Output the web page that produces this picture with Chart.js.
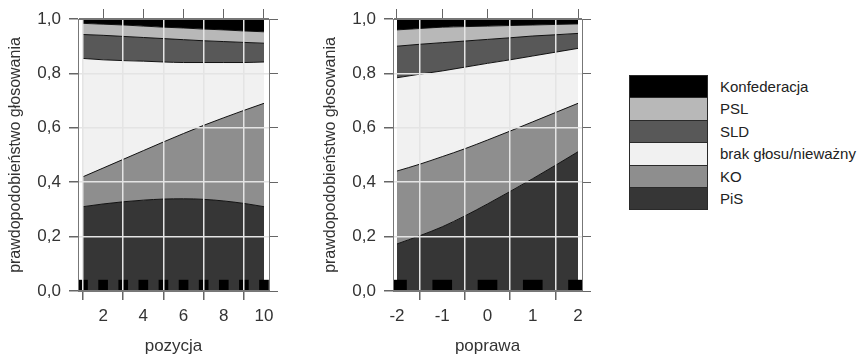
<!DOCTYPE html>
<html>
<head>
<meta charset="utf-8">
<script src="https://cdn.jsdelivr.net/npm/chart.js@4.4.1/dist/chart.umd.min.js"></script>
<style>
  body { margin: 0; background: #fff; width: 862px; height: 359px; overflow: hidden;
         font-family: "Liberation Sans", Arial, sans-serif; }
  .panel { position: absolute; top: 0; }
  #legend { position: absolute; left: 629px; top: 75px; }
  .row { position: relative; height: 22.4px; }
  .box { position: absolute; left: 0; top: 0; width: 79px; height: 23.4px; box-sizing: border-box;
         border: 1px solid #2a2a2a; }
  .lbl { position: absolute; left: 91px; top: 0; line-height: 23px; font-size: 15px; color: #222;
         white-space: nowrap; }
</style>
</head>
<body>
<div class="panel" style="left:0"><canvas id="pozycjaChart" width="290" height="359"></canvas></div>
<div class="panel" style="left:315px"><canvas id="poprawaChart" width="290" height="359"></canvas></div>
<div id="legend"></div>

<script>
Chart.defaults.font.family = '"Liberation Sans", Arial, sans-serif';
Chart.defaults.color = '#333';

// stack order, bottom to top
const partyNames = ['PiS', 'KO', 'brak głosu/nieważny', 'SLD', 'PSL', 'Konfederacja'];
const partyColors = ['#363636', '#8e8e8e', '#f1f1f1', '#585858', '#b8b8b8', '#000000'];
const yTicks = [0, 0.2, 0.4, 0.6, 0.8, 1.0];

// left panel: pozycja
const pozycja = [1, 2, 3, 4, 5, 6, 7, 8, 9, 10];
const pozycjaTicks = [2, 4, 6, 8, 10];
const pozycjaPiS  = [0.310, 0.320, 0.328, 0.334, 0.338, 0.339, 0.337, 0.331, 0.322, 0.310];
const pozycjaKO   = [0.110, 0.132, 0.156, 0.182, 0.210, 0.240, 0.272, 0.306, 0.342, 0.380];
const pozycjaBrak = [0.435, 0.398, 0.363, 0.329, 0.294, 0.261, 0.231, 0.203, 0.176, 0.152];
const pozycjaSLD  = [0.088, 0.090, 0.089, 0.087, 0.086, 0.084, 0.080, 0.077, 0.074, 0.069];
const pozycjaPSL  = [0.041, 0.041, 0.042, 0.042, 0.042, 0.043, 0.043, 0.043, 0.042, 0.042];
const pozycjaKonf = [0.016, 0.019, 0.022, 0.026, 0.030, 0.033, 0.037, 0.040, 0.044, 0.047];
const pozycjaRug  = [1, 2, 3, 4, 5, 6, 7, 8, 9, 10];

// right panel: poprawa
const poprawa = [-2, -1.5, -1, -0.5, 0, 0.5, 1, 1.5, 2];
const poprawaTicks = [-2, -1, 0, 1, 2];
const poprawaPiS  = [0.173, 0.203, 0.236, 0.276, 0.320, 0.366, 0.413, 0.462, 0.512];
const poprawaKO   = [0.268, 0.263, 0.258, 0.247, 0.235, 0.222, 0.209, 0.194, 0.178];
const poprawaBrak = [0.343, 0.331, 0.315, 0.300, 0.282, 0.262, 0.242, 0.222, 0.202];
const poprawaSLD  = [0.116, 0.110, 0.104, 0.096, 0.088, 0.081, 0.0735, 0.064, 0.055];
const poprawaPSL  = [0.060, 0.058, 0.057, 0.053, 0.049, 0.045, 0.0405, 0.038, 0.035];
const poprawaKonf = [0.040, 0.035, 0.030, 0.028, 0.026, 0.024, 0.022, 0.020, 0.018];
const poprawaRug  = [-2, -1, 0, 1, 2];

const fmt = v => v.toFixed(1).replace('.', ',');
const setTicks = list => scale => { scale.ticks = list.map(v => ({ value: v })); };

function makePanel(id, xs, series, xTicks, rug, xMin, xMax, rugWidth, xTitle, rightWidth) {
  const datasets = series.map((vals, i) => ({
    type: 'line',
    label: partyNames[i],
    data: xs.map((x, j) => ({ x: x, y: vals[j] })),
    backgroundColor: partyColors[i],
    borderColor: '#111',
    borderWidth: 1,
    pointRadius: 0,
    fill: i === 0 ? 'origin' : '-1',
    cubicInterpolationMode: 'monotone'
  }));

  // rug of observations along the bottom
  datasets.push({
    type: 'bar',
    data: rug.map(x => ({ x: x, y: [0, 0.04] })),
    backgroundColor: '#000',
    barThickness: rugWidth,
    stack: 'rug',
    order: -1
  });

  return new Chart(document.getElementById(id), {
    type: 'line',
    data: { datasets: datasets },
    options: {
      responsive: false,
      animation: false,
      layout: { padding: 0 },
      plugins: { legend: { display: false }, tooltip: { enabled: false } },
      scales: {
        x: {
          type: 'linear', position: 'bottom', min: xMin, max: xMax, offset: false,
          afterBuildTicks: setTicks(xTicks),
          afterFit: s => { s.height = 68; },
          grid: { color: '#e4e4e4', lineWidth: 1.5, tickColor: '#666', tickLength: 9, z: 1 },
          border: { display: true, color: '#777', width: 1, z: 2 },
          ticks: { font: { size: 17 }, padding: 6, maxRotation: 0, autoSkip: false },
          title: { display: true, text: xTitle, font: { size: 17 }, padding: { top: 0, bottom: 2 } }
        },
        x2: {
          type: 'linear', position: 'top', min: xMin, max: xMax, offset: false,
          afterBuildTicks: setTicks(xTicks),
          afterFit: s => { s.height = 19; },
          grid: { drawOnChartArea: false, tickColor: '#666', tickLength: 10, z: 1 },
          border: { display: true, color: '#777', width: 1, z: 2 },
          ticks: { display: false }
        },
        y: {
          type: 'linear', position: 'left', stacked: true, min: 0, max: 1,
          afterBuildTicks: setTicks(yTicks),
          afterFit: s => { s.width = 78; },
          grid: {
            color: ctx => (ctx.tick && (ctx.tick.value === 0 || ctx.tick.value === 1)) ? '#777' : '#e4e4e4',
            lineWidth: 1.5, tickColor: '#666', tickLength: 9, z: 1
          },
          border: { display: true, color: '#777', width: 1, z: 2 },
          ticks: { callback: fmt, font: { size: 17 }, padding: 8 },
          title: { display: true, text: 'prawdopodobieństwo głosowania', font: { size: 16 },
                   padding: { top: 6, bottom: 0 } }
        },
        y2: {
          type: 'linear', position: 'right', min: 0, max: 1,
          afterBuildTicks: setTicks(yTicks),
          afterFit: s => { s.width = rightWidth; },
          grid: { drawOnChartArea: false, tickColor: '#666', tickLength: 9, z: 1 },
          border: { display: true, color: '#777', width: 1, z: 2 },
          ticks: { display: false }
        }
      }
    }
  });
}

makePanel('pozycjaChart', pozycja,
  [pozycjaPiS, pozycjaKO, pozycjaBrak, pozycjaSLD, pozycjaPSL, pozycjaKonf],
  pozycjaTicks, pozycjaRug, 0.751, 10.249, 9, 'pozycja', 21);

makePanel('poprawaChart', poprawa,
  [poprawaPiS, poprawaKO, poprawaBrak, poprawaSLD, poprawaPSL, poprawaKonf],
  poprawaTicks, poprawaRug, -2.088, 2.088, 19, 'poprawa', 23);

// legend, top entry first
const legend = document.getElementById('legend');
for (let i = partyNames.length - 1; i >= 0; i--) {
  const row = document.createElement('div');
  row.className = 'row';
  const box = document.createElement('div');
  box.className = 'box';
  box.style.background = partyColors[i];
  const lbl = document.createElement('div');
  lbl.className = 'lbl';
  lbl.textContent = partyNames[i];
  row.appendChild(box);
  row.appendChild(lbl);
  legend.appendChild(row);
}
</script>
</body>
</html>
